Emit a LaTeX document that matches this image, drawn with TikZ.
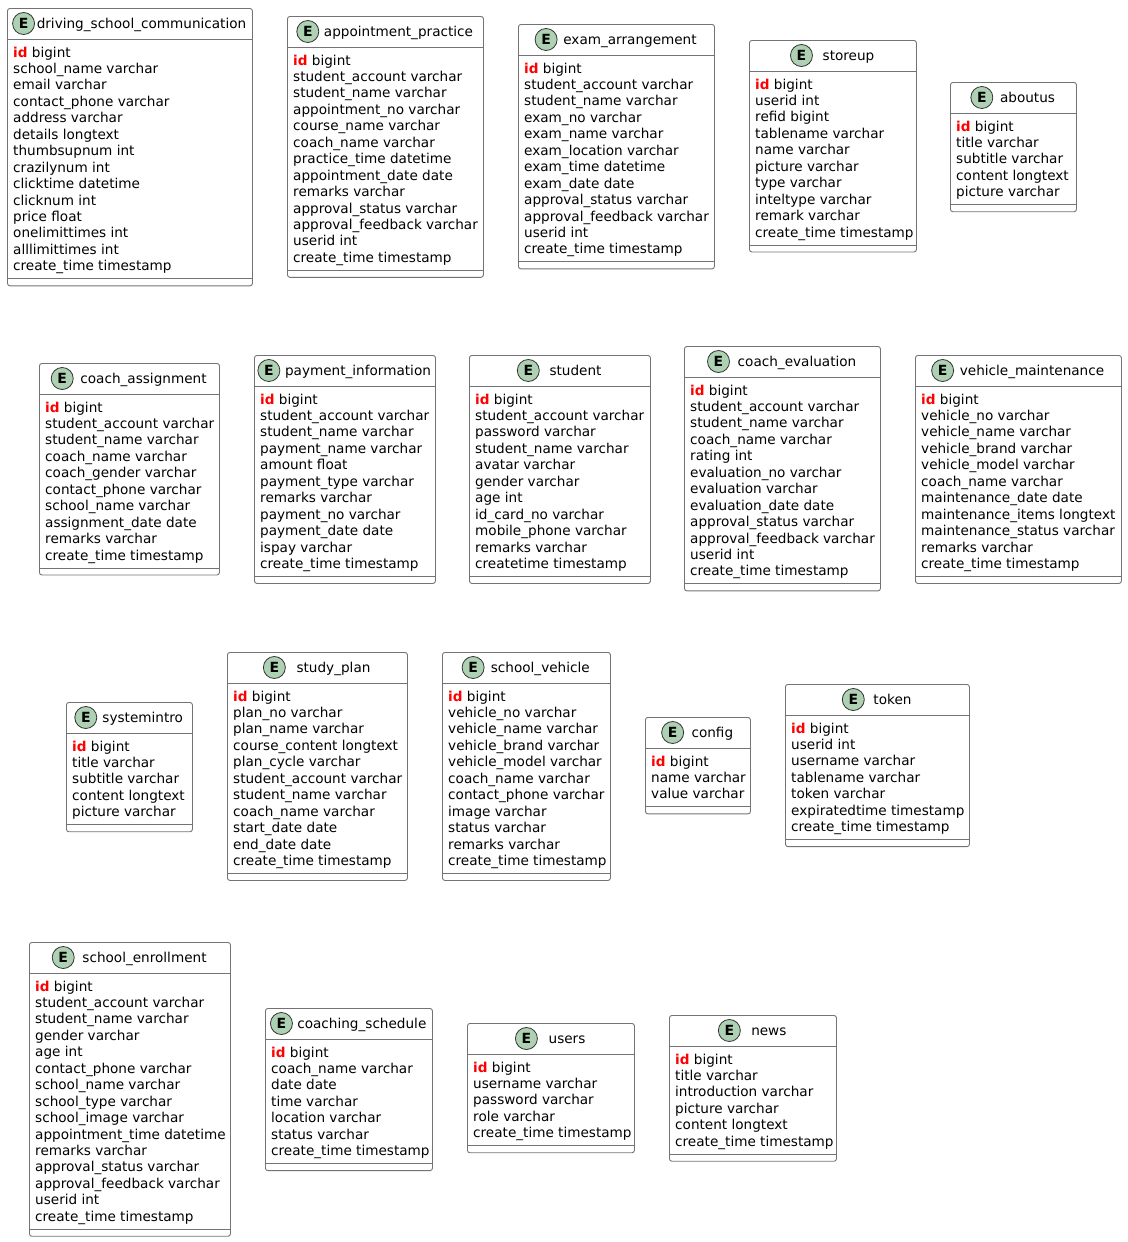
\documentclass[tikz,border=0pt]{standalone}
\usepackage{fontspec}
\usepackage{tikz}
\newfontfamily\erfont{DejaVu Sans}

\definecolor{entgray}{RGB}{115,115,115}
\definecolor{entdark}{RGB}{50,50,50}
\definecolor{entgreen}{RGB}{173,209,178}
\definecolor{idred}{RGB}{255,0,0}

\tikzset{
  entbox/.style={draw=entgray,line width=0.9pt,rounded corners=2.5pt,inner sep=0pt},
  entsep/.style={draw=entgray,line width=0.9pt},
  entcircle/.style={circle,draw=entdark,fill=entgreen,line width=0.8pt,minimum size=22pt,inner sep=0pt,
    font=\erfont\bfseries\fontsize{14}{16}\selectfont},
  entname/.style={inner sep=0pt,anchor=base,font=\erfont\fontsize{13.6}{16}\selectfont},
  entfield/.style={inner sep=0pt,anchor=base west,font=\erfont\fontsize{13.6}{16}\selectfont},
}

% #1 name, #2 left, #3 top, #4 width, #5 title, #6 gap after E, #7 fields after id
\newcommand{\entity}[7]{%
  \node[entfield] (#1-id) at (#2+6,#3+49) {\textcolor{idred}{\bfseries id} bigint};
  \gdef\nfields{0}
  \foreach \f [count=\i] in {#7} {
    \node[entfield] (#1-\i) at ({#2+6},{#3+49+\i*16.45}) {\f};
    \xdef\nfields{\i}
  }
  \pgfmathsetmacro\entheight{63.5+\nfields*16.45}
  \node[entbox,anchor=north west,minimum width=#4pt,minimum height=\entheight pt] (#1) at (#2,#3) {};
  \draw[entsep] ([yshift=-31pt]#1.north west) -- ([yshift=-31pt]#1.north east);
  \draw[entsep] ([yshift=7.5pt]#1.south west) -- ([yshift=7.5pt]#1.south east);
  \node[entname] (#1-name) at ({#2+#4/2},{#3+20.5}) {\hspace*{\dimexpr22pt+#6pt\relax}#5};
  \node[entcircle] (#1-e) at ([xshift=11pt,yshift=5pt]#1-name.base west) {E};
}

\begin{document}
\begin{tikzpicture}[x=1pt,y=-1pt]
\useasboundingbox (0,0) rectangle (1127,1242);

% first row
\entity{dsc}{7}{8}{245}{driving\_school\_communication}{2}{school\_name varchar, email varchar,
  contact\_phone varchar, address varchar, details longtext, thumbsupnum int, crazilynum int,
  clicktime datetime, clicknum int, price float, onelimittimes int, alllimittimes int,
  create\_time timestamp}
\entity{app}{287}{16}{196}{appointment\_practice}{5}{student\_account varchar, student\_name varchar,
  appointment\_no varchar, course\_name varchar, coach\_name varchar, practice\_time datetime,
  appointment\_date date, remarks varchar, approval\_status varchar, approval\_feedback varchar,
  userid int, create\_time timestamp}
\entity{exam}{518}{24}{196}{exam\_arrangement}{6}{student\_account varchar, student\_name varchar,
  exam\_no varchar, exam\_name varchar, exam\_location varchar, exam\_time datetime, exam\_date date,
  approval\_status varchar, approval\_feedback varchar, userid int, create\_time timestamp}
\entity{store}{749}{40}{167}{storeup}{10}{userid int, refid bigint, tablename varchar, name varchar,
  picture varchar, type varchar, inteltype varchar, remark varchar, create\_time timestamp}
\entity{about}{950}{82}{126}{aboutus}{7}{title varchar, subtitle varchar, content longtext,
  picture varchar}

% second row
\entity{cassign}{39}{363}{180}{coach\_assignment}{7}{student\_account varchar, student\_name varchar,
  coach\_name varchar, coach\_gender varchar, contact\_phone varchar, school\_name varchar,
  assignment\_date date, remarks varchar, create\_time timestamp}
\entity{pay}{254}{355}{181}{payment\_information}{5}{student\_account varchar, student\_name varchar,
  payment\_name varchar, amount float, payment\_type varchar, remarks varchar, payment\_no varchar,
  payment\_date date, ispay varchar, create\_time timestamp}
\entity{stu}{469}{355}{181}{student}{10}{student\_account varchar, password varchar,
  student\_name varchar, avatar varchar, gender varchar, age int, id\_card\_no varchar,
  mobile\_phone varchar, remarks varchar, createtime timestamp}
\entity{ceval}{684}{346}{196}{coach\_evaluation}{8}{student\_account varchar, student\_name varchar,
  coach\_name varchar, rating int, evaluation\_no varchar, evaluation varchar, evaluation\_date date,
  approval\_status varchar, approval\_feedback varchar, userid int, create\_time timestamp}
\entity{vmaint}{915}{355}{206}{vehicle\_maintenance}{6}{vehicle\_no varchar, vehicle\_name varchar,
  vehicle\_brand varchar, vehicle\_model varchar, coach\_name varchar, maintenance\_date date,
  maintenance\_items longtext, maintenance\_status varchar, remarks varchar, create\_time timestamp}

% third row
\entity{sysintro}{66}{702}{126}{systemintro}{5.5}{title varchar, subtitle varchar,
  content longtext, picture varchar}
\entity{plan}{227}{652}{180}{study\_plan}{11}{plan\_no varchar, plan\_name varchar,
  course\_content longtext, plan\_cycle varchar, student\_account varchar, student\_name varchar,
  coach\_name varchar, start\_date date, end\_date date, create\_time timestamp}
\entity{svehicle}{442}{652}{168}{school\_vehicle}{6.5}{vehicle\_no varchar, vehicle\_name varchar,
  vehicle\_brand varchar, vehicle\_model varchar, coach\_name varchar, contact\_phone varchar,
  image varchar, status varchar, remarks varchar, create\_time timestamp}
\entity{config}{645}{717}{105}{config}{7.7}{name varchar, value varchar}
\entity{token}{785}{684}{184}{token}{9}{userid int, username varchar, tablename varchar,
  token varchar, expiratedtime timestamp, create\_time timestamp}

% fourth row
\entity{enroll}{29}{942}{201}{school\_enrollment}{8}{student\_account varchar, student\_name varchar,
  gender varchar, age int, contact\_phone varchar, school\_name varchar, school\_type varchar,
  school\_image varchar, appointment\_time datetime, remarks varchar, approval\_status varchar,
  approval\_feedback varchar, userid int, create\_time timestamp}
\entity{csched}{265}{1008}{167}{coaching\_schedule}{4.7}{coach\_name varchar, date date,
  time varchar, location varchar, status varchar, create\_time timestamp}
\entity{users}{467}{1023}{167}{users}{11}{username varchar, password varchar, role varchar,
  create\_time timestamp}
\entity{news}{669}{1015}{167}{news}{10.7}{title varchar, introduction varchar, picture varchar,
  content longtext, create\_time timestamp}
\end{tikzpicture}
\end{document}
